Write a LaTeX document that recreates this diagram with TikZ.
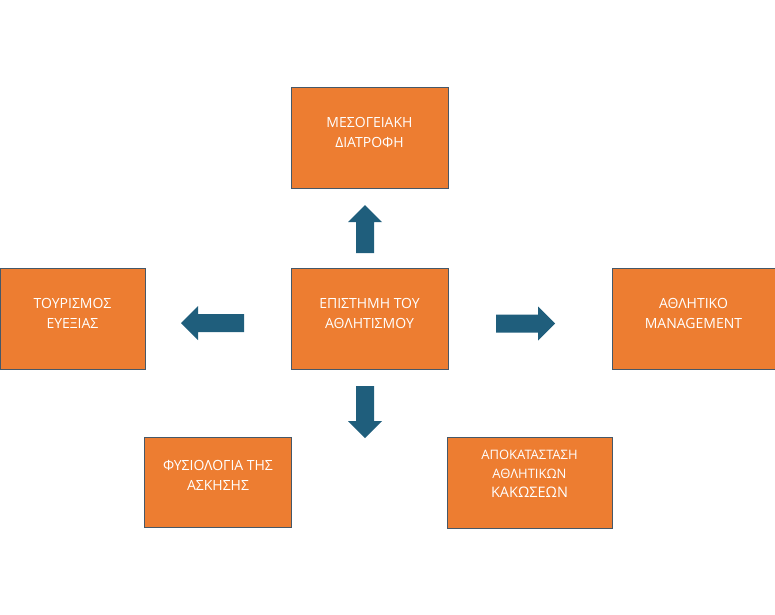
\documentclass[tikz,border=0pt]{standalone}
\usepackage{fontspec}
\setmainfont{Open Sans}
\definecolor{O}{RGB}{237, 125, 49}
\definecolor{A}{RGB}{31, 94, 124}
\definecolor{E}{RGB}{70, 88, 104}

\begin{document}
\begin{tikzpicture}[x=1pt, y=-1pt,
  box/.style={draw=E, line width=0.8pt, fill=O, inner sep=0pt},
  boxtext/.style={text=white, align=center, font=\fontsize{14}{20}\selectfont},
  pics/blockarrow/.style={code={
    \fill[A] (0,-9) -- (#1-17,-9) -- (#1-17,-17) -- (#1,0) -- (#1-17,17) -- (#1-17,9) -- (0,9) -- cycle;
  }}]
  \useasboundingbox (0,0) rectangle (775,614);
  % boxes
  \node[box, minimum width=157, minimum height=101] (diet) at (369.5,137.5) {};
  \node[box, minimum width=157, minimum height=101] (sci) at (369.5,318.5) {};
  \node[box, minimum width=145, minimum height=101] (tour) at (72.5,318.5) {};
  \node[box, minimum width=163, minimum height=101] (mgmt) at (693.5,318.5) {};
  \node[box, minimum width=147, minimum height=90] (phys) at (218,482) {};
  \node[box, minimum width=165, minimum height=91] (rehab) at (529.5,482.5) {};
  % texts
  \node[boxtext] (diettext) at (369.5,132) {ΜΕΣΟΓΕΙΑΚΗ\\ΔΙΑΤΡΟΦΗ};
  \node[boxtext] (scitext) at (369.5,313) {ΕΠΙΣΤΗΜΗ ΤΟΥ\\ΑΘΛΗΤΙΣΜΟΥ};
  \node[boxtext] (tourtext) at (72.5,313) {ΤΟΥΡΙΣΜΟΣ\\ΕΥΕΞΙΑΣ};
  \node[boxtext] (mgmttext) at (693.5,313) {ΑΘΛΗΤΙΚΟ\\MANAGEMENT};
  \node[boxtext] (phystext) at (218,475) {ΦΥΣΙΟΛΟΓΙΑ ΤΗΣ\\ΑΣΚΗΣΗΣ};
  \node[boxtext, font=\fontsize{13}{19}\selectfont] (rehabtext) at (529.5,474)
    {ΑΠΟΚΑΤΑΣΤΑΣΗ\\ΑΘΛΗΤΙΚΩΝ\\\fontsize{14.5}{19}\selectfont ΚΑΚΩΣΕΩΝ};
  % arrows
  \pic[rotate=90] (toup) at (365,253) {blockarrow=48};
  \pic[rotate=-90] (todown) at (365,386) {blockarrow=52};
  \pic[rotate=180] (toleft) at (244,323) {blockarrow=63};
  \pic (toright) at (496,323.5) {blockarrow=59};
\end{tikzpicture}
\end{document}
